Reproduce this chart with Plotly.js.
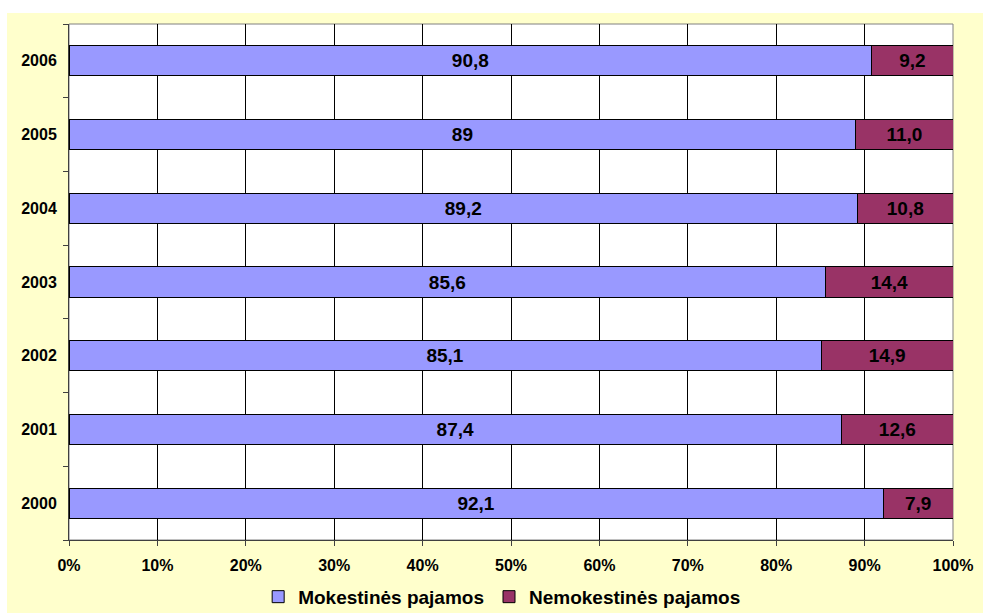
<!DOCTYPE html>
<html>
<head>
<meta charset="utf-8">
<script src="https://cdn.plot.ly/plotly-3.0.1.min.js"></script>
<style>
  html, body { margin: 0; padding: 0; background: #ffffff; }
  #bg { position: absolute; left: 7px; top: 13px; width: 976px; height: 600px; background: #FFFFCC; }
  #chart { position: absolute; left: 0; top: 0; width: 983px; height: 614px; }
</style>
</head>
<body>
<div id="bg"></div>
<div id="chart"></div>
<script>
const years = ['2000', '2001', '2002', '2003', '2004', '2005', '2006'];
const mokestines = [92.1, 87.4, 85.1, 85.6, 89.2, 89, 90.8];
const nemokestines = [7.9, 12.6, 14.9, 14.4, 10.8, 11.0, 9.2];
const seriesNames = ['Mokestinės pajamos', 'Nemokestinės pajamos'];
const xTickVals = [0, 10, 20, 30, 40, 50, 60, 70, 80, 90, 100];
const xTickLabels = ['0%', '10%', '20%', '30%', '40%', '50%', '60%', '70%', '80%', '90%', '100%'];

const fontFam = 'Arial, "Liberation Sans", sans-serif';
const lbl1 = mokestines.map(v => String(v).replace('.', ','));
const lbl2 = nemokestines.map(v => v.toFixed(1).replace('.', ','));

const common = {
  type: 'bar', orientation: 'h', y: years,
  textposition: 'inside', insidetextanchor: 'middle', textangle: 0,
  textfont: { family: fontFam, size: 19, color: '#000000', weight: 'bold' },
  hoverinfo: 'skip'
};

const data = [
  Object.assign({}, common, {
    name: seriesNames[0], x: mokestines, text: lbl1,
    marker: { color: '#9999FF', line: { color: '#000000', width: 1 } }
  }),
  Object.assign({}, common, {
    name: seriesNames[1], x: nemokestines, text: lbl2,
    marker: { color: '#993366', line: { color: '#000000', width: 1 } }
  })
];

const layout = {
  width: 983, height: 614,
  margin: { l: 69, r: 30, t: 24, b: 74 },
  paper_bgcolor: 'rgba(0,0,0,0)',
  plot_bgcolor: '#ffffff',
  barmode: 'stack',
  bargap: 0.59,
  font: { family: fontFam, color: '#000000', weight: 'bold' },
  xaxis: {
    range: [0, 100], tickmode: 'array', tickvals: xTickVals, ticktext: xTickLabels,
    showgrid: true, gridcolor: '#000000', gridwidth: 1,
    zeroline: false, showline: true, linecolor: '#404040', linewidth: 1,
    ticks: 'outside', ticklen: 5, tickcolor: '#404040',
    ticklabelstandoff: 6,
    tickfont: { family: fontFam, size: 16, color: '#000000', weight: 'bold' },
    fixedrange: true
  },
  yaxis: {
    type: 'category', categoryorder: 'array', categoryarray: years,
    tickson: 'boundaries', ticks: 'outside', ticklen: 5, tickcolor: '#404040',
    showgrid: false, showline: true, linecolor: '#404040', linewidth: 1,
    ticklabelstandoff: 8,
    tickfont: { family: fontFam, size: 16, color: '#000000', weight: 'bold' },
    fixedrange: true
  },
  shapes: [{
    type: 'rect', xref: 'paper', yref: 'paper', x0: 0, x1: 1, y0: 0, y1: 1,
    line: { color: '#808080', width: 1 }, layer: 'below'
  }],
  showlegend: true,
  legend: {
    orientation: 'h', x: 0.49, xanchor: 'center',
    yref: 'container', y: 0.028, yanchor: 'middle',
    font: { family: fontFam, size: 19, color: '#000000', weight: 'bold' },
    bgcolor: 'rgba(0,0,0,0)', traceorder: 'normal', itemwidth: 30
  }
};

Plotly.newPlot('chart', data, layout, { displayModeBar: false, staticPlot: true });
</script>
</body>
</html>
